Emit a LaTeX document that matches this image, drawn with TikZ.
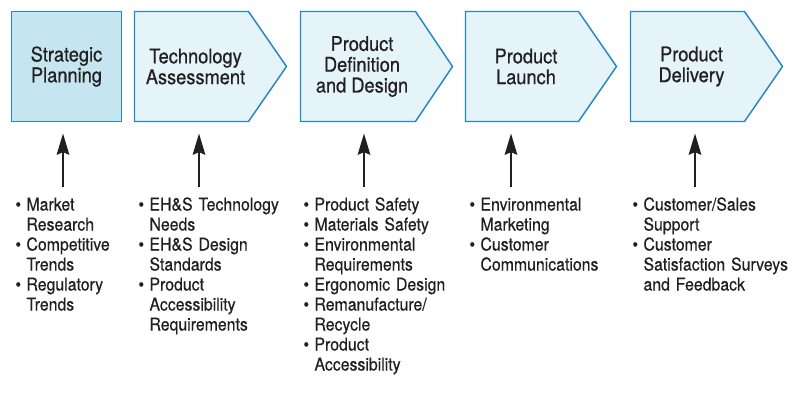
\documentclass[tikz,border=0pt]{standalone}
\usepackage{fontspec}
\setmainfont{TeX Gyre Heros}[FakeStretch=0.9,FakeBold=0.6]
\usetikzlibrary{arrows.meta,backgrounds,calc}

\definecolor{stageline}{RGB}{38,134,198}
\definecolor{stagefill}{RGB}{229,244,249}
\definecolor{stratfill}{RGB}{197,230,240}
\definecolor{inktext}{RGB}{35,31,32}

\newcommand{\bul}{\strut\makebox[8.25pt][l]{\textbullet}}
\newcommand{\ind}{\hspace*{8.25pt}}

\tikzset{every picture/.style={line width=0.75pt},
  stage/.style={inner sep=0pt, minimum height=81.75pt, align=center, text=inktext,
    font=\fontsize{15.2}{15.6}\selectfont},
  stageshape/.style={draw=stageline, fill=stagefill, line width=1.1pt, line join=miter},
  needs/.style={anchor=north west, inner sep=0pt, text width=130pt, align=left, text=inktext,
    font=\fontsize{13.2}{15}\selectfont},
  feed/.style={-{Stealth[length=16pt,width=9.5pt,inset=2pt]}, line width=1.1pt, color=inktext,
    shorten <=6.75pt, shorten >=9pt}}

\begin{document}
\begin{tikzpicture}[x=0.75pt,y=0.75pt,yscale=-1,xscale=1]
\useasboundingbox (0,0) rectangle (794,405);

% Stage Nodes
\node [stage, minimum width=81.75pt] (strat) at (66.5,66.5) {Strategic\\Planning};
\node [stage, minimum width=84.75pt] (tech) at (191.5,66.5) {\hspace*{6pt}Technology\\\hspace*{6pt}Assessment};
\node [stage, minimum width=85.5pt] (pdd) at (358,66.5) {\hspace*{6pt}Product\\\hspace*{6pt}Definition\\\hspace*{6pt}and Design};
\node [stage, minimum width=84pt] (launch) at (522,66.5) {\hspace*{6pt}Product\\\hspace*{6pt}Launch};
\node [stage, minimum width=84.75pt] (deliv) at (687.5,66.5) {\hspace*{6pt}Product\\\hspace*{6pt}Delivery};

%Shape: Stage outlines
\begin{scope}[on background layer]
\draw [stageshape, fill=stratfill] (strat.north west) rectangle (strat.south east);
\draw [stageshape] (tech.north west) -- (tech.north east) -- ([xshift=28.5pt]tech.east) -- (tech.south east) -- (tech.south west) -- cycle;
\draw [stageshape] (pdd.north west) -- (pdd.north east) -- ([xshift=27.75pt]pdd.east) -- (pdd.south east) -- (pdd.south west) -- cycle;
\draw [stageshape] (launch.north west) -- (launch.north east) -- ([xshift=28.5pt]launch.east) -- (launch.south east) -- (launch.south west) -- cycle;
\draw [stageshape] (deliv.north west) -- (deliv.north east) -- ([xshift=28.5pt]deliv.east) -- (deliv.south east) -- (deliv.south west) -- cycle;
\end{scope}

% Text Node
\node [needs] (stratL) at (15,196) {\bul Market\\\ind Research\\\bul Competitive\\\ind Trends\\\bul Regulatory\\\ind Trends};
% Text Node
\node [needs] (techL) at (138,196) {\bul EH\&S Technology\\\ind Needs\\\bul EH\&S Design\\\ind Standards\\\bul Product\\\ind Accessibility\\\ind Requirements};
% Text Node
\node [needs] (pddL) at (303,196) {\bul Product Safety\\\bul Materials Safety\\\bul Environmental\\\ind Requirements\\\bul Ergonomic Design\\\bul Remanufacture/\\\ind Recycle\\\bul Product\\\ind Accessibility};
% Text Node
\node [needs] (launchL) at (469,196) {\bul Environmental\\\ind Marketing\\\bul Customer\\\ind Communications};
% Text Node
\node [needs] (delivL) at (632,196) {\bul Customer/Sales\\\ind Support\\\bul Customer\\\ind Satisfaction Surveys\\\ind and Feedback};

%Straight Lines: inputs
\draw [feed] ($(stratL.north west)+(48,0)$) coordinate (s1) -- (s1 |- strat.south);
\draw [feed] ($(techL.north west)+(61,0)$) coordinate (s2) -- (s2 |- tech.south);
\draw [feed] ($(pddL.north west)+(61,0)$) coordinate (s3) -- (s3 |- pdd.south);
\draw [feed] ($(launchL.north west)+(42,0)$) coordinate (s4) -- (s4 |- launch.south);
\draw [feed] ($(delivL.north west)+(63,0)$) coordinate (s5) -- (s5 |- deliv.south);

\end{tikzpicture}
\end{document}
